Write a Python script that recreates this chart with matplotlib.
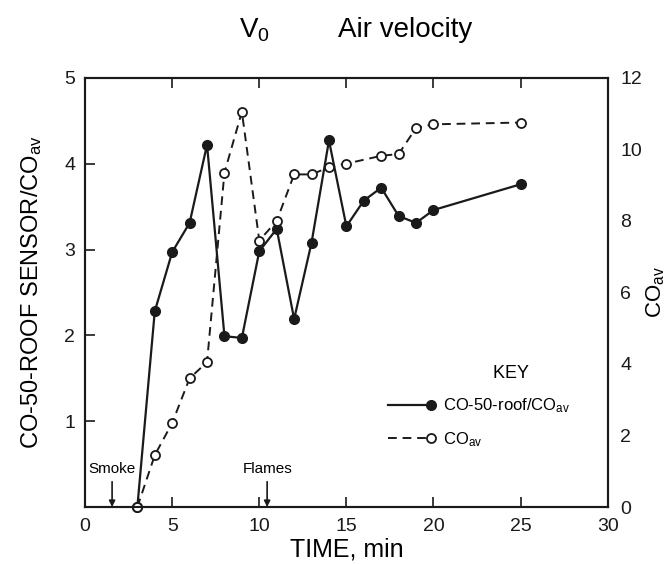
import numpy as np
import matplotlib
matplotlib.use('Agg')
import matplotlib.pyplot as plt
from matplotlib.legend_handler import HandlerLine2D

plt.rcParams['font.family'] = ['Liberation Sans', 'DejaVu Sans']
plt.rcParams['mathtext.fontset'] = 'custom'
plt.rcParams['mathtext.rm'] = 'Liberation Sans'
plt.rcParams['mathtext.it'] = 'Liberation Sans'

# data
time_roof = [3, 4, 5, 6, 7, 8, 9, 10, 11, 12, 13, 14, 15, 16, 17, 18, 19, 20, 25]
roof_ratio = [0.0, 2.28, 2.97, 3.31, 4.22, 1.99, 1.97, 2.98, 3.24, 2.19,
              3.08, 4.27, 3.27, 3.57, 3.72, 3.39, 3.31, 3.46, 3.76]

time_av = [3, 4, 5, 6, 7, 8, 9, 10, 11, 12, 13, 14, 15, 17, 18, 19, 20, 25]
co_av = [0.0, 1.45, 2.35, 3.6, 4.05, 9.35, 11.05, 7.45, 8.0, 9.3,
         9.3, 9.5, 9.6, 9.82, 9.87, 10.6, 10.7, 10.75]

x_ticks = [0, 5, 10, 15, 20, 25, 30]
left_ticks = [1, 2, 3, 4, 5]
right_ticks = [0, 2, 4, 6, 8, 10, 12]

# events marked with arrows
events = ['Smoke', 'Flames']
event_times = [1.55, 10.45]


class EndMarker(HandlerLine2D):
    # legend marker at the right end of the line, not in the middle
    def create_artists(self, *args, **kwargs):
        arts = super().create_artists(*args, **kwargs)
        arts[0].set_markevery([2])
        return arts


fig = plt.figure(figsize=(6.7, 5.64), dpi=100)
ax = fig.add_axes([0.127, 0.101, 0.780, 0.761])
ax2 = ax.twinx()

l1, = ax.plot(time_roof, roof_ratio, color='#1a1a1a', lw=1.6, marker='o',
              ms=7, mfc='#1a1a1a', mec='#1a1a1a', zorder=3, clip_on=False)
l2, = ax2.plot(time_av, co_av, color='#1a1a1a', lw=1.4, dashes=(4.5, 3),
               marker='o', ms=6.5, mfc='white', mec='#1a1a1a', mew=1.3,
               clip_on=False)

ax.set_xlim(0, 30)
ax.set_ylim(0, 5)
ax2.set_ylim(0, 12)
ax.set_xticks(x_ticks)
ax.set_yticks(left_ticks)
ax2.set_yticks(right_ticks)

ax.tick_params(axis='both', direction='in', length=7, width=1.2,
               labelsize=14, colors='#1a1a1a', top=True, pad=7)
ax.tick_params(axis='x', pad=8)
ax2.tick_params(axis='y', length=0, labelsize=14, pad=9, colors='#1a1a1a')

for a in (ax, ax2):
    for s in a.spines.values():
        s.set_linewidth(1.5)
        s.set_color('#1a1a1a')

ax.set_xlabel('TIME, min', fontsize=18, labelpad=2)
ax.set_ylabel(r'CO-50-ROOF SENSOR/CO$_\mathrm{av}$', fontsize=17, labelpad=15)
ax2.set_ylabel(r'CO$_\mathrm{av}$', fontsize=16, labelpad=2)

for name, t in zip(events, event_times):
    ax.annotate(name, xy=(t, 0), xytext=(t, 0.36), ha='center', va='bottom',
                fontsize=11,
                arrowprops=dict(arrowstyle='-|>', color='#1a1a1a', lw=1.2,
                                mutation_scale=9, shrinkA=2, shrinkB=0))

leg = ax.legend([l1, l2], [r'CO-50-roof/CO$_\mathrm{av}$', r'CO$_\mathrm{av}$'],
                title='             KEY', frameon=False, fontsize=12,
                title_fontsize=13, loc='upper left',
                bbox_to_anchor=(0.55, 0.367),
                handlelength=2.6, handletextpad=0.75, labelspacing=0.9,
                handler_map={l1: EndMarker(), l2: EndMarker()})
leg._legend_box.align = 'center'

fig.text(0.38, 0.947, r'V$_\mathrm{0}$', fontsize=20, ha='center', va='center')
fig.text(0.605, 0.947, 'Air velocity', fontsize=20, ha='center', va='center')

fig.savefig('out.png', dpi=100)
